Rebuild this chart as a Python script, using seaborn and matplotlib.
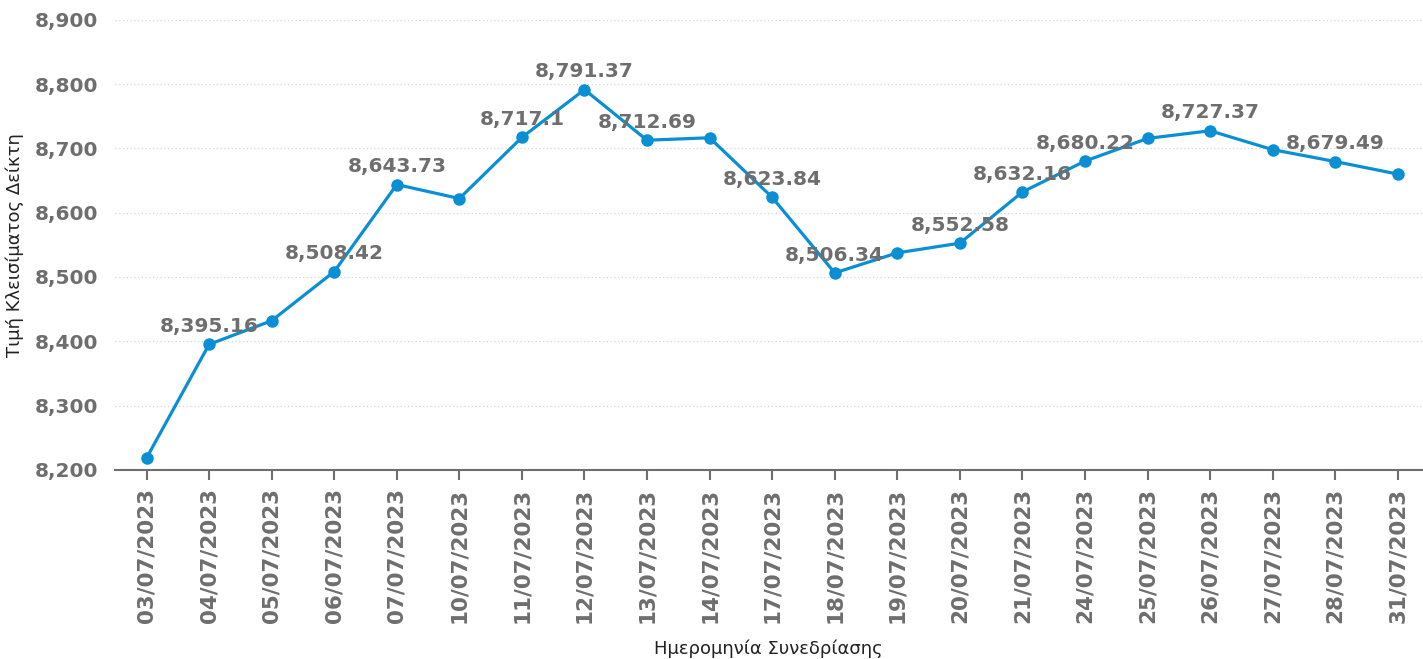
import numpy as np
import pandas as pd
import seaborn as sns
import matplotlib.pyplot as plt
from matplotlib.ticker import FuncFormatter

# data
dates = ['03/07/2023', '04/07/2023', '05/07/2023', '06/07/2023', '07/07/2023',
         '10/07/2023', '11/07/2023', '12/07/2023', '13/07/2023', '14/07/2023',
         '17/07/2023', '18/07/2023', '19/07/2023', '20/07/2023', '21/07/2023',
         '24/07/2023', '25/07/2023', '26/07/2023', '27/07/2023', '28/07/2023',
         '31/07/2023']
close_values = [8218.5, 8395.16, 8432.0, 8508.42, 8643.73,
                8622.0, 8717.10, 8791.37, 8712.69, 8716.5,
                8623.84, 8506.34, 8537.5, 8552.58, 8632.16,
                8680.22, 8715.5, 8727.37, 8698.0, 8679.49,
                8660.0]
# points whose value label is shown in the original
labelled = [1, 3, 4, 6, 7, 8, 10, 11, 13, 14, 15, 17, 19]

df = pd.DataFrame({'pos': np.arange(len(dates)), 'date': dates, 'close': close_values})

sns.set_style("white")
plt.rcParams['font.family'] = ['DejaVu Sans']

line_color = '#0A8FD5'
text_gray = '#6E6E6E'

fig = plt.figure(figsize=(14.23, 6.59), dpi=100)
ax = fig.add_axes([0.081, 0.287, 0.918, 0.683])

sns.lineplot(data=df, x='pos', y='close', ax=ax, color=line_color, linewidth=2.3,
             marker='o', markersize=9, markeredgewidth=0)

for i in labelled:
    v = close_values[i]
    txt = f"{v:,.2f}".rstrip('0').rstrip('.')
    ax.annotate(txt, (i, v), xytext=(0, 6), textcoords='offset points',
                ha='center', va='bottom', fontsize=14.5, fontweight='bold', color=text_gray)

ax.set_ylim(8200, 8900)
ax.set_yticks(np.arange(8200, 8901, 100))
ax.yaxis.set_major_formatter(FuncFormatter(lambda y, p: f"{int(y):,}"))
ax.set_xlim(-0.5, 20.38)
ax.set_xticks(df['pos'])
ax.set_xticklabels(dates, rotation=90)

ax.grid(axis='y', color='#d4d4d4', linestyle=(0, (1, 2)), linewidth=0.9)
ax.grid(axis='x', visible=False)
for s in ['left', 'right', 'top']:
    ax.spines[s].set_visible(False)
ax.spines['bottom'].set_color('#6E6E6E')
ax.spines['bottom'].set_linewidth(1.5)

ax.tick_params(axis='x', which='major', direction='out', length=7, width=1.5,
               color='#6E6E6E', bottom=True, pad=6)
ax.tick_params(axis='y', length=0, pad=12)
for lbl in ax.get_xticklabels():
    lbl.set_fontsize(15.5)
    lbl.set_fontweight('bold')
    lbl.set_color(text_gray)
for lbl in ax.get_yticklabels():
    lbl.set_fontsize(14.5)
    lbl.set_fontweight('bold')
    lbl.set_color(text_gray)

ax.set_xlabel('Ημερομηνία Συνεδρίασης', fontsize=13, color='#222222', labelpad=12)
ax.set_ylabel('Τιμή Κλεισίματος Δείκτη', fontsize=13, color='#222222', labelpad=8)

fig.savefig('out.png', dpi=100)
